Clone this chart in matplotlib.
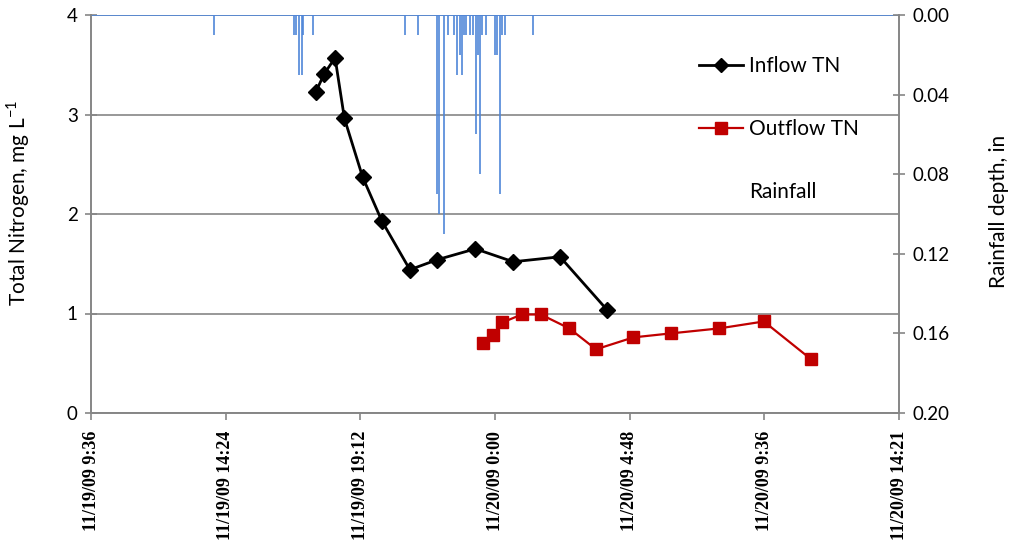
#!/usr/bin/env python3
# coding=utf-8
# TN inflow / outflow with rainfall on an inverted second axis
from matplotlib import pyplot as plt
from matplotlib.lines import Line2D
import pandas as pd

inflow_times = ['2009-11-19 17:37', '2009-11-19 17:55', '2009-11-19 18:18',
                '2009-11-19 18:38', '2009-11-19 19:17', '2009-11-19 19:58',
                '2009-11-19 20:58', '2009-11-19 21:56', '2009-11-19 23:18',
                '2009-11-20 00:39', '2009-11-20 02:19', '2009-11-20 03:59']
inflow_tn = [3.23, 3.41, 3.57, 2.96, 2.37, 1.93, 1.44, 1.54, 1.65, 1.52, 1.57, 1.04]

outflow_times = ['2009-11-19 23:35', '2009-11-19 23:56', '2009-11-20 00:16',
                 '2009-11-20 00:57', '2009-11-20 01:38', '2009-11-20 02:39',
                 '2009-11-20 03:36', '2009-11-20 04:56', '2009-11-20 06:16',
                 '2009-11-20 07:59', '2009-11-20 09:35', '2009-11-20 11:16']
outflow_tn = [0.70, 0.78, 0.91, 0.99, 0.99, 0.85, 0.64, 0.76, 0.80, 0.85, 0.92, 0.54]

rain_times = ['2009-11-19 13:59', '2009-11-19 16:50', '2009-11-19 16:55',
              '2009-11-19 17:01', '2009-11-19 17:07', '2009-11-19 17:10',
              '2009-11-19 17:30', '2009-11-19 20:47', '2009-11-19 21:16',
              '2009-11-19 21:55', '2009-11-19 22:01', '2009-11-19 22:10',
              '2009-11-19 22:20', '2009-11-19 22:32', '2009-11-19 22:39',
              '2009-11-19 22:45', '2009-11-19 22:50', '2009-11-19 22:54',
              '2009-11-19 22:59', '2009-11-19 23:07', '2009-11-19 23:12',
              '2009-11-19 23:19', '2009-11-19 23:24', '2009-11-19 23:28',
              '2009-11-19 23:33', '2009-11-19 23:41', '2009-11-20 00:00',
              '2009-11-20 00:05', '2009-11-20 00:11', '2009-11-20 00:16',
              '2009-11-20 00:21', '2009-11-20 01:22']
rain_depth = [0.01, 0.01, 0.01, 0.03, 0.03, 0.01, 0.01, 0.01, 0.01, 0.09, 0.10,
              0.11, 0.01, 0.01, 0.03, 0.02, 0.03, 0.01, 0.01, 0.01, 0.01, 0.06,
              0.02, 0.08, 0.01, 0.01, 0.02, 0.02, 0.09, 0.01, 0.01, 0.01]

tick_times = ['2009-11-19 09:36', '2009-11-19 14:24', '2009-11-19 19:12',
              '2009-11-20 00:00', '2009-11-20 04:48', '2009-11-20 09:36',
              '2009-11-20 14:24']
tick_labels = ['11/19/09 9:36', '11/19/09 14:24', '11/19/09 19:12',
               '11/20/09 0:00', '11/20/09 4:48', '11/20/09 9:36',
               '11/20/09 14:21']
rain_ticks = [0.00, 0.04, 0.08, 0.12, 0.16, 0.20]

plt.rcParams['font.family'] = ['Lato', 'DejaVu Sans']
grey = '#868686'
blue = '#4F86D8'

fig = plt.figure(figsize=(10.13, 5.46), dpi=100)
ax = fig.add_axes([91 / 1013, 1 - 413 / 546, 808 / 1013, 398 / 546])
ax2 = ax.twinx()

t_in = pd.to_datetime(inflow_times)
t_out = pd.to_datetime(outflow_times)
t_rain = pd.to_datetime(rain_times)
t_ticks = pd.to_datetime(tick_times)

# rainfall: spikes hanging from the top
ax2.axhline(0, color=blue, lw=1.2, zorder=1)
ax2.vlines(t_rain, 0, rain_depth, color=blue, lw=1.2)
ax2.set_ylim(0.20, 0.00)
ax2.set_yticks(rain_ticks)
ax2.set_yticklabels(['%.2f' % v for v in rain_ticks])
ax2.set_ylabel('Rainfall depth, in', fontsize=15)
ax2.yaxis.set_label_coords(1.111, 0.507)

ax.plot(t_in, inflow_tn, color='black', lw=2, marker='D', ms=8, zorder=3)
ax.plot(t_out, outflow_tn, color='#C00000', lw=1.6, marker='s', ms=8, zorder=3)
ax.set_ylim(0, 4)
ax.set_yticks([0, 1, 2, 3, 4])
ax.grid(axis='y', color=grey, lw=1.2)
ax.set_axisbelow(True)
ax.set_ylabel('Total Nitrogen, mg L$^{\\mathregular{-1}}$', fontsize=15)
ax.yaxis.set_label_coords(-0.073, 0.528)

ax.set_xlim(t_ticks[0], t_ticks[-1])
ax.set_xticks(t_ticks)
ax.set_xticklabels(tick_labels, rotation=90, family='Liberation Serif',
                   fontweight='bold')

for a in (ax, ax2):
    a.spines['top'].set_visible(False)
    for s in ('left', 'right', 'bottom'):
        a.spines[s].set_color(grey)
        a.spines[s].set_linewidth(1.2)
    a.tick_params(axis='y', color=grey, direction='inout', length=9, width=1.2,
                  labelsize=13.5, pad=5)
ax.tick_params(axis='x', color=grey, length=5, width=1.2, pad=8, labelsize=13)
ax2.patch.set_visible(False)

handles = [Line2D([], [], color='black', lw=2, marker='D', ms=7),
           Line2D([], [], color='#C00000', lw=1.6, marker='s', ms=8),
           Line2D([], [], color='none')]
fig.legend(handles, ['Inflow TN', 'Outflow TN', 'Rainfall'], loc='upper left',
           bbox_to_anchor=(689 / 1013, 1 - 46 / 546), frameon=False, fontsize=15,
           handlelength=2.1, handletextpad=0.3, labelspacing=2.05, borderpad=0)

fig.savefig('out.png', dpi=100)
